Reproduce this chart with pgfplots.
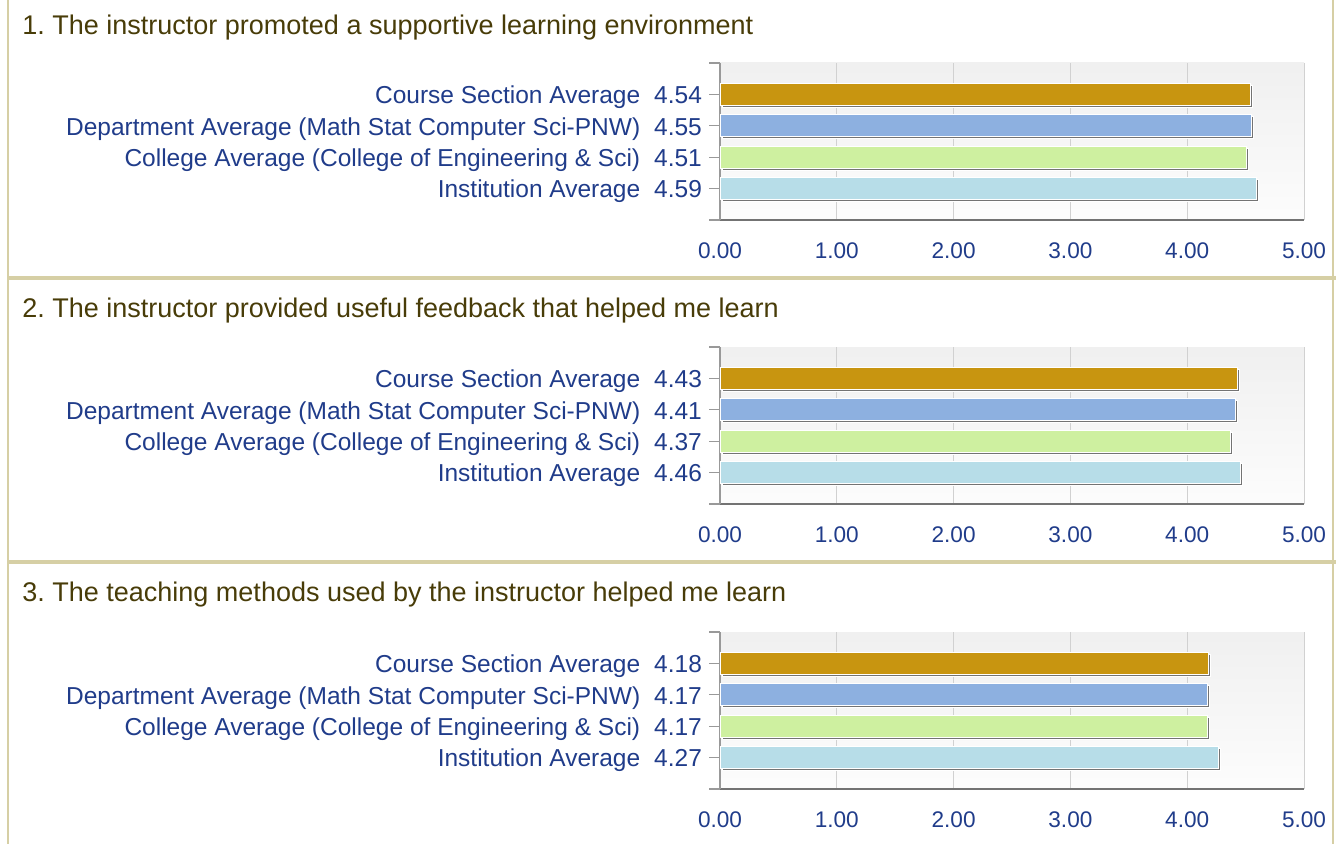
\documentclass[border=0pt]{standalone}
\usepackage{fontspec}
\setmainfont{Liberation Sans}
\usepackage{pgfplots}
\pgfplotsset{compat=1.18}
\usetikzlibrary{shadows}
\definecolor{cCourse}{RGB}{200,149,16}
\definecolor{cDept}{RGB}{141,176,224}
\definecolor{cColl}{RGB}{206,240,160}
\definecolor{cInst}{RGB}{183,221,232}
\definecolor{labblue}{RGB}{32,60,138}
\definecolor{headcol}{RGB}{72,60,8}
\definecolor{bordercol}{RGB}{214,207,165}
\pgfplotsset{
 panel/.style={
  scale only axis, width=292pt, height=78.5pt,
  xmin=0, xmax=5, ymin=0, ymax=5,
  axis x line*=bottom, axis y line*=left,
  xtick={0,1,2,3,4,5}, ytick={0,1,2,3,4,5},
  xmajorgrids, grid style={draw=black!18, line width=0.5pt},
  x axis line style={-, draw=black!55, line width=1.2pt},
  y axis line style={-, draw=black!40, line width=0.6pt},
  xtick style={draw=none},
  ytick style={draw=black!40, line width=0.6pt},
  major tick length=5.5pt, tick align=outside,
  yticklabel style={font=\fontsize{12.25}{14}\selectfont, text=labblue, yshift=-1.5pt},
  xticklabel style={font=\fontsize{11.3}{13}\selectfont, text=labblue, yshift=-2.5pt, /pgf/number format/.cd, fixed, fixed zerofill, precision=2, assume math mode=true},
  axis background/.style={top color=black!6, bottom color=black!1},
  xbar, bar width=11pt,
  every axis plot/.append style={bar shift=0pt, draw=white, line width=0.5pt, drop shadow={shadow xshift=1pt, shadow yshift=-1pt, fill=black!55, opacity=1}},
 },
}
\begin{document}
\frenchspacing
\begin{tikzpicture}
\path[use as bounding box] (0,0) rectangle (668pt,-422pt);
\draw[bordercol, line width=1.4pt] (4pt,0) -- (4pt,-422pt);
\draw[bordercol, line width=1.2pt] (666.5pt,0) -- (666.5pt,-422pt);
\draw[bordercol, line width=1.6pt] (4pt,-139pt) -- (668pt,-139pt);
\draw[bordercol, line width=1.6pt] (4pt,-281pt) -- (668pt,-281pt);

\node[anchor=west, text=headcol, font=\fontsize{13.5}{16}\selectfont, inner sep=0pt] at (11pt,-14pt) {1. The instructor promoted a supportive learning environment};
\node[anchor=west, text=headcol, font=\fontsize{13.5}{16}\selectfont, inner sep=0pt] at (11pt,-155.5pt) {2. The instructor provided useful feedback that helped me learn};
\node[anchor=west, text=headcol, font=\fontsize{13.5}{16}\selectfont, inner sep=0pt] at (11pt,-297.5pt) {3. The teaching methods used by the instructor helped me learn};

\begin{axis}[panel, at={(360pt,-110pt)}, anchor=south west,
 yticklabels={{},{Institution Average\hspace{7pt}4.59},{College Average (College of Engineering \& Sci)\hspace{7pt}4.51},{Department Average (Math Stat Computer Sci-PNW)\hspace{7pt}4.55},{Course Section Average\hspace{7pt}4.54},{}}]
\addplot[fill=cInst] coordinates {(4.59,1)};
\addplot[fill=cColl] coordinates {(4.51,2)};
\addplot[fill=cDept] coordinates {(4.55,3)};
\addplot[fill=cCourse] coordinates {(4.54,4)};
\end{axis}

\begin{axis}[panel, at={(360pt,-252pt)}, anchor=south west,
 yticklabels={{},{Institution Average\hspace{7pt}4.46},{College Average (College of Engineering \& Sci)\hspace{7pt}4.37},{Department Average (Math Stat Computer Sci-PNW)\hspace{7pt}4.41},{Course Section Average\hspace{7pt}4.43},{}}]
\addplot[fill=cInst] coordinates {(4.46,1)};
\addplot[fill=cColl] coordinates {(4.37,2)};
\addplot[fill=cDept] coordinates {(4.41,3)};
\addplot[fill=cCourse] coordinates {(4.43,4)};
\end{axis}

\begin{axis}[panel, at={(360pt,-394.5pt)}, anchor=south west,
 yticklabels={{},{Institution Average\hspace{7pt}4.27},{College Average (College of Engineering \& Sci)\hspace{7pt}4.17},{Department Average (Math Stat Computer Sci-PNW)\hspace{7pt}4.17},{Course Section Average\hspace{7pt}4.18},{}}]
\addplot[fill=cInst] coordinates {(4.27,1)};
\addplot[fill=cColl] coordinates {(4.17,2)};
\addplot[fill=cDept] coordinates {(4.17,3)};
\addplot[fill=cCourse] coordinates {(4.18,4)};
\end{axis}
\end{tikzpicture}
\end{document}
